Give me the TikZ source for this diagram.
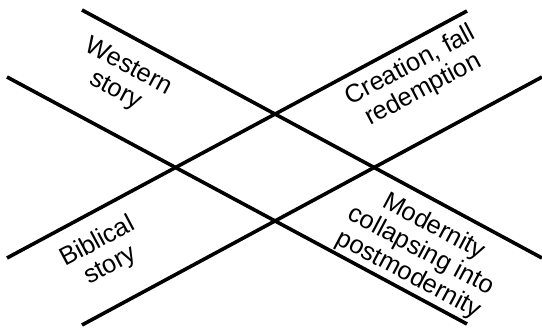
\documentclass[tikz,border=0pt]{standalone}
\usepackage{fontspec}
\setmainfont{Liberation Sans}
\begin{document}
\begin{tikzpicture}[x=1pt,y=-1pt,
  bar/.style={line width=3.6pt},
  lbl/.style={font=\fontsize{25.5}{27}\selectfont,align=center,inner sep=0pt}]
\useasboundingbox (0,0) rectangle (542,330);
\coordinate (a1) at (82,10);  \coordinate (a2) at (542,258);
\coordinate (b1) at (7,77);   \coordinate (b2) at (467,324);
\coordinate (c1) at (7,258);  \coordinate (c2) at (467,11);
\coordinate (d1) at (82,325); \coordinate (d2) at (542,77);
\draw[bar] (a1) -- (a2);
\draw[bar] (b1) -- (b2);
\draw[bar] (c1) -- (c2);
\draw[bar] (d1) -- (d2);
\node[lbl,rotate=-28] (west) at (122,79) {Western\\story};
\node[lbl,rotate=28] (crea) at (417,78) {Creation, fall\\redemption};
\node[lbl,rotate=28] (bibl) at (104,254) {Biblical\\story};
\node[lbl,rotate=-28] (mod) at (421,251) {Modernity\\collapsing into\\postmodernity};
\end{tikzpicture}
\end{document}
